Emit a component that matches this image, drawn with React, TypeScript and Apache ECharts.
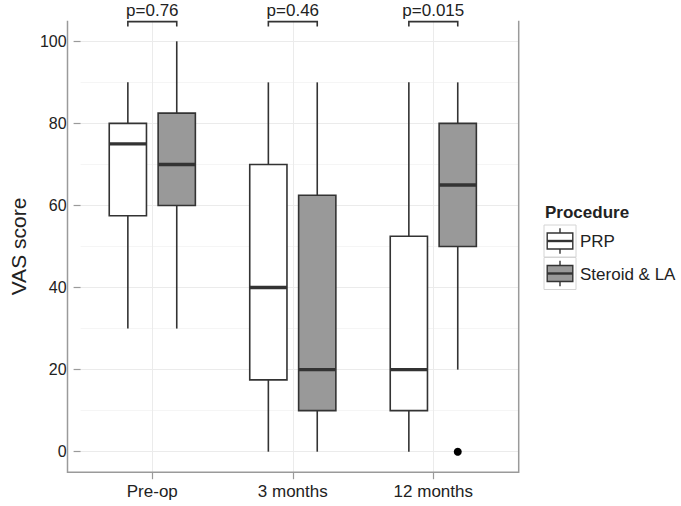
import React, { useEffect, useRef } from 'react';
import * as echarts from 'echarts';

const categories = ['Pre-op', '3 months', '12 months'];
const seriesNames = ['PRP', 'Steroid & LA'];
// [low whisker, Q1, median, Q3, high whisker]
const prpStats = [
  [30, 57.5, 75, 80, 90],
  [0, 17.5, 40, 70, 90],
  [0, 10, 20, 52.5, 90],
];
const steroidStats = [
  [30, 60, 70, 82.5, 100],
  [0, 10, 20, 62.5, 90],
  [20, 50, 65, 80, 90],
];
// [category index, value]
const steroidOutliers = [[2, 0]];
const pValueLabels = ['p=0.76', 'p=0.46', 'p=0.015'];
const bracketLevel = 104.8;
const yMin = 0;
const yMax = 100;
const yInterval = 20;

const FONT = '"Liberation Sans", Arial, Helvetica, sans-serif';
const DODGE = 0.174;
const BOXW = 0.265;
const DARK = '#333333';
const AXIS = '#9a9a9a';

function boxRender(dir: number, fill: string) {
  return (params: any, api: any) => {
    const c = api.value(0);
    const sp = api.coord([1, 0])[0] - api.coord([0, 0])[0];
    const cx = api.coord([c, 0])[0] + dir * DODGE * sp;
    const bw = BOXW * sp;
    const yLo = api.coord([c, api.value(1)])[1];
    const yQ1 = api.coord([c, api.value(2)])[1];
    const yMed = api.coord([c, api.value(3)])[1];
    const yQ3 = api.coord([c, api.value(4)])[1];
    const yHi = api.coord([c, api.value(5)])[1];
    const ls = { stroke: DARK, lineWidth: 1.6 };
    return {
      type: 'group',
      children: [
        { type: 'line', shape: { x1: cx, y1: yLo, x2: cx, y2: yQ1 }, style: ls },
        { type: 'line', shape: { x1: cx, y1: yQ3, x2: cx, y2: yHi }, style: ls },
        {
          type: 'rect',
          shape: { x: cx - bw / 2, y: yQ3, width: bw, height: yQ1 - yQ3 },
          style: { fill, stroke: DARK, lineWidth: 1.6 },
        },
        {
          type: 'line',
          shape: { x1: cx - bw / 2, y1: yMed, x2: cx + bw / 2, y2: yMed },
          style: { stroke: DARK, lineWidth: 3.4 },
        },
      ],
    };
  };
}

export default function App() {
  const ref = useRef<HTMLDivElement>(null);
  useEffect(() => {
    if (!ref.current) return;
    const chart = echarts.init(ref.current, null, { renderer: 'svg' });
    const panel = { left: 67.5, top: 20.8, right: 518.7, bottom: 472.2 };
    const option: any = {
      animation: false,
      backgroundColor: '#ffffff',
      textStyle: { fontFamily: FONT },
      grid: [
        // y-scale grid (0..100)
        { left: 67.5, top: 41.3, width: 451.2, height: 410.4 },
        // category grid (centres of first and last category)
        { left: 152.3, top: 20.8, width: 281, height: 451.4 },
      ],
      xAxis: [
        { gridIndex: 0, type: 'value', show: false, min: 0, max: 1 },
        {
          gridIndex: 1,
          type: 'category',
          data: categories,
          boundaryGap: false,
          position: 'bottom',
          axisLine: { show: false, onZero: false },
          axisTick: { show: true, length: 7, lineStyle: { color: AXIS, width: 1.2 } },
          axisLabel: { color: '#222', fontSize: 17, margin: 11, fontFamily: FONT },
          splitLine: { show: true, lineStyle: { color: '#ebebeb', width: 1 } },
        },
      ],
      yAxis: [
        {
          gridIndex: 0,
          type: 'value',
          min: yMin,
          max: yMax,
          interval: yInterval,
          name: 'VAS score',
          nameLocation: 'middle',
          nameRotate: 90,
          nameGap: 47,
          nameTextStyle: { color: '#222', fontSize: 21, fontFamily: FONT },
          axisLine: { show: false },
          axisTick: { show: true, length: 7, lineStyle: { color: AXIS, width: 1.2 } },
          axisLabel: { color: '#222', fontSize: 16, margin: 14, fontFamily: FONT },
          splitLine: { show: true, lineStyle: { color: '#ebebeb', width: 1 } },
          minorTick: { show: false, splitNumber: 2 },
          minorSplitLine: { show: true, lineStyle: { color: '#f5f5f5', width: 1 } },
        },
        { gridIndex: 1, type: 'value', show: false, min: yMin - 5, max: yMax + 5 },
      ],
      series: [
        {
          name: seriesNames[0],
          type: 'custom',
          xAxisIndex: 1,
          yAxisIndex: 1,
          clip: false,
          z: 5,
          renderItem: boxRender(-1, '#ffffff'),
          encode: { x: 0, y: [1, 2, 3, 4, 5] },
          data: prpStats.map((s, i) => [i, ...s]),
        },
        {
          name: seriesNames[1],
          type: 'custom',
          xAxisIndex: 1,
          yAxisIndex: 1,
          clip: false,
          z: 5,
          renderItem: boxRender(1, '#999999'),
          encode: { x: 0, y: [1, 2, 3, 4, 5] },
          data: steroidStats.map((s, i) => [i, ...s]),
        },
        {
          name: seriesNames[1] + ' outliers',
          type: 'custom',
          xAxisIndex: 1,
          yAxisIndex: 1,
          clip: false,
          z: 6,
          renderItem: (params: any, api: any) => {
            const c = api.value(0);
            const sp = api.coord([1, 0])[0] - api.coord([0, 0])[0];
            const p = api.coord([c, api.value(1)]);
            return {
              type: 'circle',
              shape: { cx: p[0] + DODGE * sp, cy: p[1], r: 4 },
              style: { fill: '#000' },
            };
          },
          encode: { x: 0, y: 1 },
          data: steroidOutliers,
        },
        {
          name: 'p-values',
          type: 'custom',
          xAxisIndex: 1,
          yAxisIndex: 1,
          clip: false,
          z: 6,
          renderItem: (params: any, api: any) => {
            const c = api.value(0);
            const sp = api.coord([1, 0])[0] - api.coord([0, 0])[0];
            const p = api.coord([c, api.value(1)]);
            const xl = p[0] - DODGE * sp;
            const xr = p[0] + DODGE * sp;
            const y = p[1];
            return {
              type: 'group',
              children: [
                {
                  type: 'polyline',
                  shape: { points: [[xl, y + 5], [xl, y], [xr, y], [xr, y + 5]] },
                  style: { stroke: DARK, lineWidth: 1.6, fill: null },
                },
                {
                  type: 'text',
                  x: p[0],
                  y: y - 11,
                  style: {
                    text: pValueLabels[params.dataIndex],
                    fill: '#222',
                    font: '17px ' + FONT,
                    align: 'center',
                    verticalAlign: 'middle',
                  },
                },
              ],
            };
          },
          encode: { x: 0, y: 1 },
          data: pValueLabels.map((_, i) => [i, bracketLevel]),
        },
      ],
      graphic: [
        {
          type: 'polyline',
          z: 10,
          shape: {
            points: [
              [panel.left, panel.top],
              [panel.left, panel.bottom],
              [panel.right, panel.bottom],
              [panel.right, panel.top],
            ],
          },
          style: { stroke: AXIS, lineWidth: 1.5, fill: null },
        },
        {
          type: 'text',
          x: 545,
          y: 212,
          style: {
            text: 'Procedure',
            font: 'bold 17px ' + FONT,
            fill: '#222',
            verticalAlign: 'middle',
          },
        },
        ...[0, 1].map((k) => {
          const top = 225 + k * 32.5;
          const fill = k === 0 ? '#ffffff' : '#999999';
          return {
            type: 'group',
            children: [
              {
                type: 'rect',
                shape: { x: 544, y: top, width: 32, height: 32 },
                style: { fill: '#ffffff', stroke: '#d4d4d4', lineWidth: 1 },
              },
              {
                type: 'line',
                shape: { x1: 560, y1: top + 3.2, x2: 560, y2: top + 28.8 },
                style: { stroke: DARK, lineWidth: 1.4 },
              },
              {
                type: 'rect',
                shape: { x: 547.2, y: top + 8, width: 25.6, height: 16 },
                style: { fill, stroke: DARK, lineWidth: 1.4 },
              },
              {
                type: 'line',
                shape: { x1: 547.2, y1: top + 16, x2: 572.8, y2: top + 16 },
                style: { stroke: DARK, lineWidth: 2.4 },
              },
              {
                type: 'text',
                x: 580,
                y: top + 16.5,
                style: {
                  text: seriesNames[k],
                  font: '17px ' + FONT,
                  fill: '#222',
                  verticalAlign: 'middle',
                },
              },
            ],
          };
        }),
      ],
    };
    chart.setOption(option);
    return () => chart.dispose();
  }, []);
  return (
    <div
      ref={ref}
      style={{ position: 'absolute', left: 0, top: 0, width: 681, height: 506 }}
    />
  );
}
